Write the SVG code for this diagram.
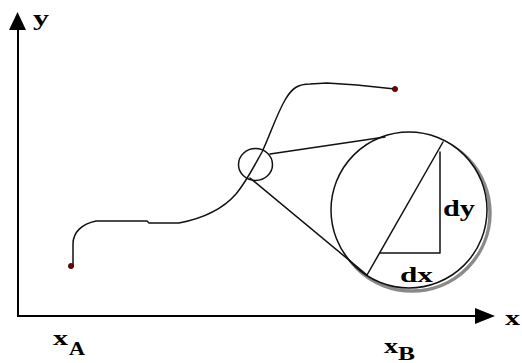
<svg xmlns="http://www.w3.org/2000/svg" width="522" height="363" viewBox="0 0 522 363">
<style>
.ln{fill:none;stroke:#111;stroke-width:1.5;stroke-linejoin:round;stroke-linecap:round}
.ax{fill:none;stroke:#000;stroke-width:2}
.lbl{font-family:"Liberation Serif","Times New Roman",serif;font-weight:bold;fill:#000}
.dot{fill:#7a0000;stroke:#300;stroke-width:0.8}
</style>
<rect width="522" height="363" fill="#fff"/>
<g id="axes">
<line class="ax" x1="18" y1="29" x2="18" y2="316"/>
<line class="ax" x1="17" y1="316" x2="477" y2="316"/>
<polygon points="17.5,12 9,30 26,30" fill="#000"/>
<polygon points="495,316 475,308 475,324" fill="#000"/>
<text class="lbl" x="33" y="25" font-size="22" textLength="16" lengthAdjust="spacingAndGlyphs">y</text>
<text class="lbl" x="505" y="325" font-size="22" textLength="15" lengthAdjust="spacingAndGlyphs">x</text>
</g>
<g id="xA">
<text class="lbl" x="53" y="345" font-size="20" textLength="15" lengthAdjust="spacingAndGlyphs">x</text>
<text class="lbl" x="69" y="355" font-size="18" textLength="16" lengthAdjust="spacingAndGlyphs">A</text>
</g>
<g id="xB">
<text class="lbl" x="384" y="353" font-size="20" textLength="14" lengthAdjust="spacingAndGlyphs">x</text>
<text class="lbl" x="398" y="360" font-size="18" textLength="17" lengthAdjust="spacingAndGlyphs">B</text>
</g>
<g id="curve">
<path class="ln" d="M73,266 L73,244 C73,232 82,224 96,221 L147,221 L149,223 L179,223 C200,219 222,210 236,194 C246,182 252,170 262,152 C270,135 276,116 285,100 C292,88 298,84 310,84 L327,83 L357,85 L395,89"/>
<circle class="dot" cx="71" cy="266" r="2.6"/>
<circle class="dot" cx="395" cy="89" r="2.6"/>
</g>
<g id="magnifier">
<circle cx="412" cy="213" r="78" fill="none" stroke="#8a8a8a" stroke-width="3.5"/>
<circle cx="409" cy="210" r="78" fill="#fff" stroke="#111" stroke-width="1.5"/>
<ellipse class="ln" cx="255.5" cy="164.5" rx="17" ry="16"/>
</g>
<g id="connectors">
<line class="ln" x1="270" y1="154" x2="385" y2="137"/>
<line class="ln" x1="250" y1="178" x2="367" y2="275"/>
</g>
<g id="triangle">
<line class="ln" x1="367" y1="275" x2="443" y2="142"/>
<path class="ln" d="M380,253 L440,253 L440,152"/>
<text class="lbl" x="443" y="216" font-size="24" textLength="32" lengthAdjust="spacingAndGlyphs">dy</text>
<text class="lbl" x="400" y="282" font-size="22" textLength="33" lengthAdjust="spacingAndGlyphs">dx</text>
</g>
</svg>
